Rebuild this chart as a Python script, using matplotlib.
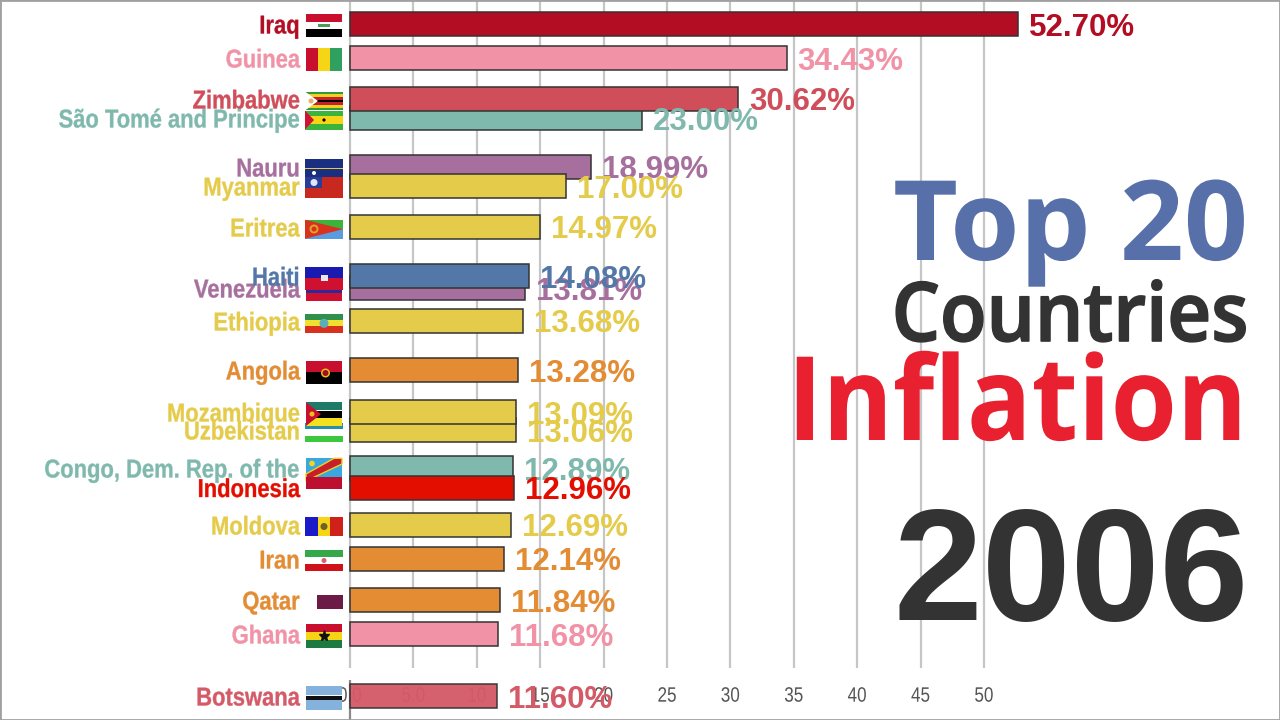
import matplotlib
matplotlib.use("Agg")
import matplotlib.pyplot as plt
from matplotlib.patches import Circle, Polygon, Rectangle
from matplotlib.patheffects import AbstractPathEffect
from matplotlib.transforms import Affine2D

# paint order: later entries sit on top of earlier ones
countries = ["Iraq", "Guinea", "São Tomé and Principe", "Zimbabwe", "Nauru", "Myanmar", "Eritrea",
             "Venezuela", "Haiti", "Ethiopia", "Angola", "Uzbekistan", "Mozambique",
             "Congo, Dem. Rep. of the", "Indonesia", "Moldova", "Iran", "Qatar", "Ghana", "Botswana"]
inflation = [52.70, 34.43, 23.00, 30.62, 18.99, 17.00, 14.97,
             13.81, 14.08, 13.68, 13.28, 13.06, 13.09,
             12.89, 12.96, 12.69, 12.14, 11.84, 11.68, 11.60]
# bar centre rows, in pixels from the top (bars are mid-animation, so spacing is uneven)
rows = [24, 58, 118, 99, 167, 186, 227,
        288, 276, 321, 370, 430, 412,
        468, 487.5, 525, 559, 600, 634, 696]

RED = "#b30d23"
PINK = "#f192a6"
ROSE = "#cf4e5a"
TEAL = "#7fb9ae"
PURPLE = "#a66f9e"
YELLOW = "#e5cb4a"
BLUE = "#5377a7"
ORANGE = "#e38c33"
PURE_RED = "#e30d00"
colors = [RED, PINK, TEAL, ROSE, PURPLE, YELLOW, YELLOW,
          PURPLE, BLUE, YELLOW, ORANGE, YELLOW, YELLOW,
          TEAL, PURE_RED, YELLOW, ORANGE, ORANGE, PINK, "#d55a68"]

ticks = [0, 5, 10, 15, 20, 25, 30, 35, 40, 45, 50]
tick_labels = ["0.0", "5.0", "10", "15", "20", "25", "30", "35", "40", "45", "50"]

PX_PER_UNIT = 12.68
ZERO_PX = 350
SANS = "Liberation Sans"
HEAD = "Open Sans"


class Squeeze(AbstractPathEffect):
    # scale glyphs horizontally around the right end (or middle) of the string,
    # with an optional outline to thicken the strokes again
    def __init__(self, sx, anchor="right", stroke=0.0):
        super().__init__()
        self.sx = sx
        self.anchor = anchor
        self.stroke = stroke

    def draw_path(self, renderer, gc, tpath, affine, rgbFace=None):
        box = tpath.get_extents()
        x0 = box.x1 if self.anchor == "right" else (box.x0 + box.x1) / 2
        squeeze = Affine2D().translate(-x0, 0).scale(self.sx, 1).translate(x0, 0)
        gc2 = renderer.new_gc()
        gc2.copy_properties(gc)
        if self.stroke:
            gc2.set_foreground(rgbFace)
            gc2.set_linewidth(self.stroke)
        renderer.draw_path(gc2, tpath, squeeze + affine, rgbFace)
        gc2.restore()


fig = plt.figure(figsize=(12.8, 7.2), dpi=100)
ax = fig.add_axes([0, 0, 1, 1])
ax.set_xlim(-ZERO_PX / PX_PER_UNIT, (1280 - ZERO_PX) / PX_PER_UNIT)
ax.set_ylim(720, 0)
ax.set_yticks([])
ax.set_axisbelow(True)
ax.set_xticks(ticks, tick_labels)
ax.tick_params(axis="x", length=0, pad=-24, labelsize=15, labelcolor="#555555")
for lab in ax.get_xticklabels():
    lab.set_family(SANS)
    lab.set_path_effects([Squeeze(0.82, "center")])
for s in ax.spines.values():
    s.set_color("#a0a0a0")
    s.set_linewidth(2)

ax.vlines(ticks, 0, 668, color="#c6c6c6", lw=1.6, zorder=0.4)
ax.vlines(0, 680, 720, color="#8a8a8a", lw=1.6, zorder=0.4)

bars = ax.barh(rows, inflation, height=24, color=colors, edgecolor="#333333", lw=1.1, zorder=2)
bars[-1].set_alpha(0.96)
for b, val, row, c in zip(bars, inflation, rows, colors):
    ax.text(val + 11 / PX_PER_UNIT, row + 3.5, f"{val:.2f}%", color=c, family=SANS, weight="bold",
            fontsize=22.5, va="center", ha="left", zorder=b.get_zorder() + 0.1)

# overlay in plain pixel coordinates for names, flags and the heading
top = fig.add_axes([0, 0, 1, 1], zorder=3)
top.set_xlim(0, 1280)
top.set_ylim(720, 0)
top.axis("off")

for name, row, c in zip(countries, rows, colors):
    top.text(300, row + 2.5, name, color=c, family=SANS, weight="bold", fontsize=18.6,
             va="center", ha="right", path_effects=[Squeeze(0.85, stroke=0.25)])


def hflag(x, y, w, h, cols, weights=None):
    weights = weights or [1] * len(cols)
    total = sum(weights)
    cur = y
    for c, wt in zip(cols, weights):
        step = h * wt / total
        top.add_patch(Rectangle((x, cur), w, step, fc=c, lw=0))
        cur += step


def vflag(x, y, w, h, cols):
    step = w / len(cols)
    for i, c in enumerate(cols):
        top.add_patch(Rectangle((x + i * step, y), step, h, fc=c, lw=0))


def tri(x, y, tip, h, c):
    top.add_patch(Polygon([(x, y), (tip, y + h / 2), (x, y + h)], fc=c, lw=0))


def dot(x, y, r, c):
    top.add_patch(Circle((x, y), r, fc=c, lw=0))


# Iraq
hflag(306, 13.7, 36, 23.6, ["#c8102e", "#ffffff", "#000000"])
top.add_patch(Rectangle((318, 24), 12, 2.5, fc="#4d9a5b", lw=0))
# Guinea
vflag(306, 47.7, 36, 23.6, ["#c8102e", "#f5d516", "#2fa05f"])
# Sao Tome
hflag(305, 110.5, 38, 19, ["#3cb43c", "#f5d516", "#3cb43c"], [1, 1.5, 1])
tri(305, 110.5, 314, 19, "#d21034")
dot(324, 120, 1.6, "#000000")
# Zimbabwe
hflag(305, 91.5, 38, 19, ["#2f9b3c", "#f0d020", "#c8202a", "#000000", "#c8202a", "#f0d020", "#2f9b3c"])
tri(305, 91.5, 318, 19, "#ffffff")
dot(311, 101, 2.5, "#e8b070")
# Nauru
hflag(305, 159, 38, 19, ["#1a2f80", "#e8c840", "#1a2f80"], [9, 1, 9])
# Myanmar
top.add_patch(Rectangle((305, 176.7), 38, 21.3, fc="#c8281e", lw=0))
top.add_patch(Rectangle((305, 176.7), 17, 11.7, fc="#2a3c9a", lw=0))
dot(314, 182.5, 3.5, "#dfe6f5")
dot(314, 173, 2, "#ffffff")
# Eritrea
top.add_patch(Rectangle((305, 219.7), 38, 9.5, fc="#3cb43c", lw=0))
top.add_patch(Rectangle((305, 229.2), 38, 9.5, fc="#5b9be0", lw=0))
tri(305, 219.7, 343, 19, "#d8321e")
dot(314, 229, 4.5, "#e0a030")
dot(314, 229, 2.5, "#d8321e")
# Venezuela
hflag(306, 278, 36, 23, ["#f5d516", "#2a2a9a", "#cf1030"])
# Haiti
hflag(305, 266.7, 38, 23, ["#1a1ab0", "#cf1030"])
top.add_patch(Rectangle((320.5, 275), 7, 6, fc="#e8e8e8", lw=0))
# Ethiopia
hflag(305, 314, 38, 18.7, ["#2f8f4c", "#f0e030", "#d8321e"])
dot(324, 323.3, 4.5, "#5ab0b8")
# Angola
hflag(306, 360.7, 36, 23.3, ["#c8102e", "#000000"])
dot(325.5, 373, 4.5, "#e8c020")
dot(325.5, 373, 3, "#a01020")
# Uzbekistan
hflag(305, 423, 38, 19, ["#2a8fa8", "#ffffff", "#3cc83c"])
# Mozambique
hflag(306, 402.3, 36, 23.7, ["#1f7a68", "#ffffff", "#000000", "#ffffff", "#f5e020"], [7.5, 0.7, 7, 0.7, 7.5])
tri(306, 402.3, 321, 23.7, "#c8102e")
dot(312, 414, 2.5, "#e8c020")
# Congo
top.add_patch(Rectangle((306, 458.3), 36, 24, fc="#3aa8e0", lw=0))
top.add_patch(Polygon([(306, 481), (306, 474), (334, 458.3), (342, 458.3), (342, 464)], fc="#c8202a",
                      ec="#f0d020", lw=1))
dot(312, 463.5, 2.8, "#f5d516")
# Indonesia
top.add_patch(Rectangle((306, 477), 36, 12, fc="#bd1030", lw=0))
# Moldova
vflag(305, 517, 38, 19, ["#1a1ac8", "#f5d516", "#d0201a"])
dot(324, 526.5, 3.5, "#70602a")
# Iran
hflag(305, 549.7, 38, 21.6, ["#35a84a", "#ffffff", "#d0101a"])
dot(324, 560.5, 2.5, "#d86070")
# Qatar
top.add_patch(Rectangle((317, 594.7), 26, 14.6, fc="#6b1b45", lw=0))
# Ghana
hflag(306, 624.3, 36, 23.4, ["#c8102e", "#f5d516", "#1f7a40"])
top.plot(324, 636, marker="*", ms=8, color="#111111")
# Botswana
hflag(306, 686, 36, 23.7, ["#85b2dc", "#ffffff", "#111111", "#ffffff", "#85b2dc"], [7.5, 0.5, 3, 0.5, 7.5])

top.text(1248, 260, "Top 20", color="#5870aa", family=HEAD, weight="bold", fontsize=80,
         ha="right", va="baseline", path_effects=[Squeeze(1.01)])
top.text(1249, 341, "Countries", color="#333333", family=HEAD, weight="semibold", fontsize=59,
         ha="right", va="baseline", path_effects=[Squeeze(0.93, stroke=1.2)])
top.text(1248, 440, "Inflation", color="#e8202f", family=HEAD, weight="bold", fontsize=84,
         ha="right", va="baseline", path_effects=[Squeeze(0.917)])
top.text(1249, 620, "2006", color="#333333", family=SANS, weight="bold", fontsize=115,
         ha="right", va="baseline")

fig.savefig("out.png", dpi=100)
